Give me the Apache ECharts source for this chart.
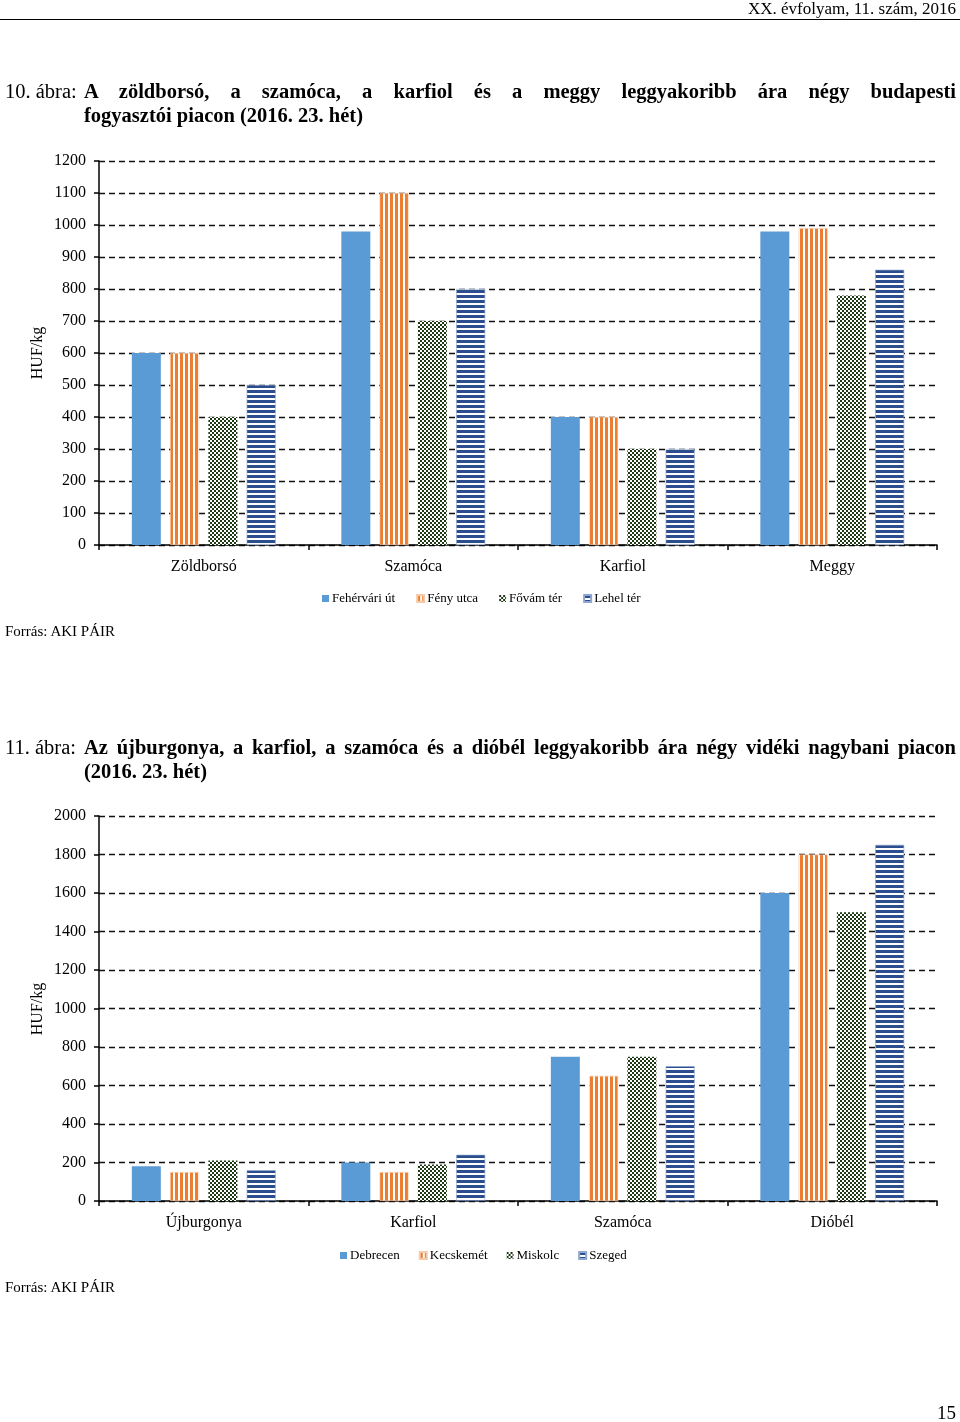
<!DOCTYPE html>
<html>
<head>
<meta charset="utf-8">
<script src="https://cdn.jsdelivr.net/npm/echarts@6/dist/echarts.min.js"></script>
<style>
  html, body { margin: 0; padding: 0; background: #fff; }
  body { width: 960px; height: 1422px; position: relative; overflow: hidden; font-family: "Liberation Serif", "DejaVu Serif", serif; color: #000; }
  #chart { position: absolute; left: 0; top: 0; width: 960px; height: 1422px; }
  .t { position: absolute; z-index: 2; white-space: nowrap; }
  .hdr { right: 4px; top: 0px; font-size: 17px; line-height: 18px; }
  .rule { position: absolute; left: 0; top: 19px; width: 960px; height: 0; border-top: 1.5px solid #000; z-index: 2; }
  .title { position: absolute; z-index: 2; left: 5px; width: 951px; font-size: 20.5px; line-height: 24px; }
  .title .lab { position: absolute; left: 0; top: 0; white-space: nowrap; }
  .title .l1 { display: block; margin-left: 79px; text-align: justify; text-align-last: justify; white-space: nowrap; font-weight: bold; }
  .title .l2 { display: block; margin-left: 79px; white-space: nowrap; font-weight: bold; }
  .src { left: 5px; font-size: 15px; line-height: 18px; }
  .pg { right: 4px; font-size: 19px; line-height: 20px; }
</style>
</head>
<body>
<div id="chart"></div>
<div class="t hdr">XX. évfolyam, 11. szám, 2016</div>
<div class="rule"></div>
<div class="title" style="top:79px;">
  <span class="lab">10. ábra:</span>
  <span class="l1">A zöldborsó, a szamóca, a karfiol és a meggy leggyakoribb ára négy budapesti</span>
  <span class="l2">fogyasztói piacon (2016. 23. hét)</span>
</div>
<div class="t src" style="top:622px;">Forrás: AKI PÁIR</div>
<div class="title" style="top:735px;">
  <span class="lab">11. ábra:</span>
  <span class="l1">Az újburgonya, a karfiol, a szamóca és a dióbél leggyakoribb ára négy vidéki nagybani piacon</span>
  <span class="l2">(2016. 23. hét)</span>
</div>
<div class="t src" style="top:1278px;">Forrás: AKI PÁIR</div>
<div class="t pg" style="top:1403px;">15</div>
<script>
// ---- Chart 1 data (10. ábra) ----
const categories1 = ['Zöldborsó', 'Szamóca', 'Karfiol', 'Meggy'];
const seriesNames1 = ['Fehérvári út', 'Fény utca', 'Fővám tér', 'Lehel tér'];
const fehervariUt = [600, 980, 400, 980];
const fenyUtca = [600, 1100, 400, 990];
const fovamTer = [400, 700, 300, 780];
const lehelTer = [500, 800, 300, 860];
const yTicks1 = [0, 100, 200, 300, 400, 500, 600, 700, 800, 900, 1000, 1100, 1200];

// ---- Chart 2 data (11. ábra) ----
const categories2 = ['Újburgonya', 'Karfiol', 'Szamóca', 'Dióbél'];
const seriesNames2 = ['Debrecen', 'Kecskemét', 'Miskolc', 'Szeged'];
const debrecen = [180, 200, 750, 1600];
const kecskemet = [150, 150, 650, 1800];
const miskolc = [210, 190, 750, 1500];
const szeged = [160, 240, 700, 1850];
const yTicks2 = [0, 200, 400, 600, 800, 1000, 1200, 1400, 1600, 1800, 2000];

// ---- patterns ----
function mk(w, h, draw) {
  const c = document.createElement('canvas');
  c.width = w; c.height = h;
  const g = c.getContext('2d');
  g.fillStyle = '#ffffff'; g.fillRect(0, 0, w, h);
  draw(g);
  return { image: c, repeat: 'repeat' };
}
const BLUE = '#5B9BD5';
const orangePat = mk(5, 4, g => { g.fillStyle = '#ED7D31'; g.fillRect(0, 0, 3, 4); });
const checkPat = mk(4, 4, g => { g.fillStyle = '#1F3814'; g.fillRect(0, 0, 2, 2); g.fillRect(2, 2, 2, 2); });
const navyPat = mk(4, 5, g => { g.fillStyle = '#2C4E8E'; g.fillRect(0, 0, 4, 3); });
const fills = [BLUE, orangePat, checkPat, navyPat];

const FONT = 'Liberation Serif';
const chart = echarts.init(document.getElementById('chart'), null, { renderer: 'canvas' });

function xAx(cats, gi) {
  return {
    type: 'category', gridIndex: gi, data: cats, boundaryGap: true,
    axisLine: { lineStyle: { color: '#000', width: 1.5 } },
    axisTick: { show: true, length: 5, lineStyle: { color: '#000', width: 1.5 } },
    axisLabel: { color: '#000', fontFamily: FONT, fontSize: 16, margin: 14 },
    splitLine: { show: false }
  };
}
function yAx(ticks, gi) {
  const step = ticks[1] - ticks[0];
  return {
    type: 'value', gridIndex: gi, min: ticks[0], max: ticks[ticks.length - 1], interval: step,
    axisLine: { show: true, lineStyle: { color: '#000', width: 1.5 } },
    axisTick: { show: true, length: 5, lineStyle: { color: '#000', width: 1.5 } },
    axisLabel: { color: '#000', fontFamily: FONT, fontSize: 16, margin: 13, formatter: v => String(v) },
    splitLine: { show: true, lineStyle: { color: '#111', width: 1.4, type: [6, 4] } }
  };
}
function bars(names, datas, gi) {
  return names.map((n, i) => ({
    name: n, type: 'bar', xAxisIndex: gi, yAxisIndex: gi, data: datas[i],
    barWidth: 29, barGap: '32%',
    itemStyle: {
      color: fills[i],
      borderColor: i === 1 ? '#F6C9A8' : (i === 3 ? '#8FA6CF' : null),
      borderWidth: (i === 1 || i === 3) ? 0.6 : 0
    },
    emphasis: { disabled: true }
  }));
}
function legendCfg(names, left, top, gap) {
  return {
    data: names, left: left, top: top, orient: 'horizontal', padding: 0,
    itemWidth: 7, itemHeight: 7, itemGap: gap, icon: 'rect',
    textStyle: { color: '#000', fontFamily: FONT, fontSize: 13, padding: [0, 0, 0, -2] },
    selectedMode: false
  };
}

chart.setOption({
  animation: false,
  backgroundColor: 'transparent',
  grid: [
    { left: 99, top: 161, width: 838, height: 384 },
    { left: 99, top: 816, width: 838, height: 385 }
  ],
  xAxis: [xAx(categories1, 0), xAx(categories2, 1)],
  yAxis: [yAx(yTicks1, 0), yAx(yTicks2, 1)],
  legend: [legendCfg(seriesNames1, 322, 592, 21), legendCfg(seriesNames2, 340, 1249, 19)],
  graphic: [
    { type: 'text', x: 38, y: 353, rotation: Math.PI / 2,
      style: { text: 'HUF/kg', fontFamily: FONT, fontSize: 16, fill: '#000', align: 'center', verticalAlign: 'middle' } },
    { type: 'text', x: 38, y: 1009, rotation: Math.PI / 2,
      style: { text: 'HUF/kg', fontFamily: FONT, fontSize: 16, fill: '#000', align: 'center', verticalAlign: 'middle' } }
  ],
  series: [
    ...bars(seriesNames1, [fehervariUt, fenyUtca, fovamTer, lehelTer], 0),
    ...bars(seriesNames2, [debrecen, kecskemet, miskolc, szeged], 1)
  ]
});
</script>
</body>
</html>
